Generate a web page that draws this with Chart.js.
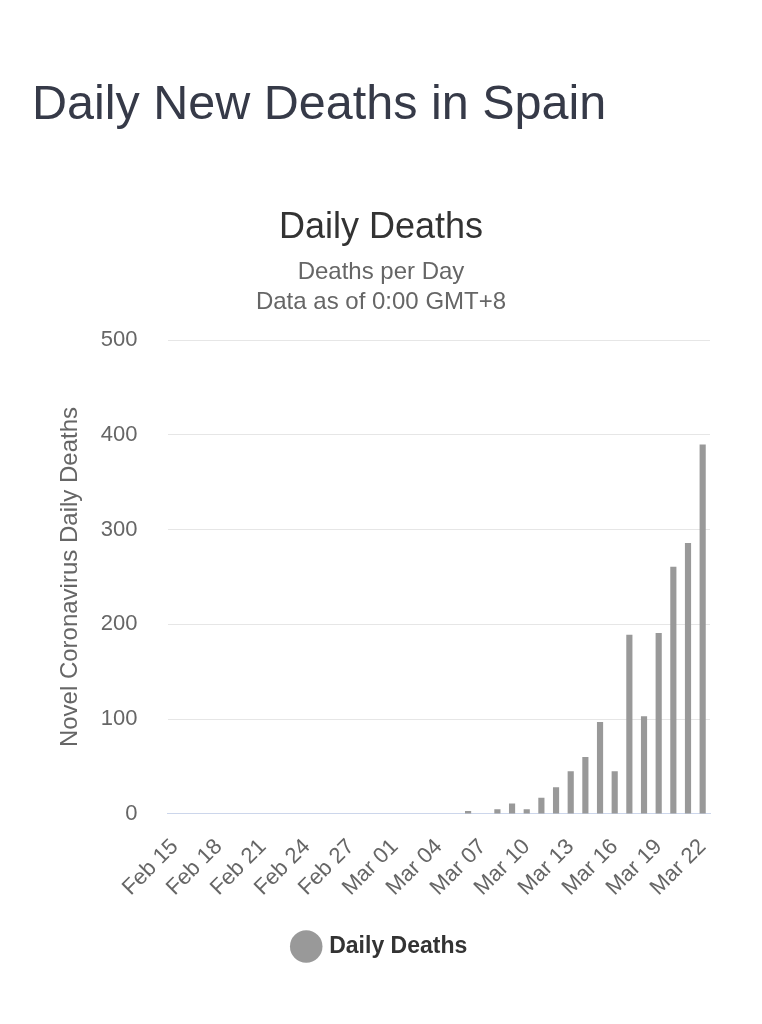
<!DOCTYPE html>
<html>
<head>
<meta charset="utf-8">
<title>Daily New Deaths in Spain</title>
<script src="https://cdn.jsdelivr.net/npm/chart.js@4"></script>
<style>
    body {
        margin: 0;
        background: #ffffff;
        font-family: "Liberation Sans", Arial, sans-serif;
    }
    h1 {
        position: absolute;
        left: 32px;
        top: 74px;
        margin: 0;
        font-weight: normal;
        font-size: 48.5px;
        color: #363a48;
    }
    #chart-box {
        position: absolute;
        left: 0;
        top: 180px;
        width: 762px;
        height: 844px;
    }
</style>
</head>
<body>
<h1>Daily New Deaths in Spain</h1>
<div id="chart-box"><canvas id="deaths-chart"></canvas></div>
<script>
const days = [
    'Feb 15', 'Feb 16', 'Feb 17', 'Feb 18', 'Feb 19', 'Feb 20', 'Feb 21', 'Feb 22',
    'Feb 23', 'Feb 24', 'Feb 25', 'Feb 26', 'Feb 27', 'Feb 28', 'Feb 29',
    'Mar 01', 'Mar 02', 'Mar 03', 'Mar 04', 'Mar 05', 'Mar 06', 'Mar 07', 'Mar 08',
    'Mar 09', 'Mar 10', 'Mar 11', 'Mar 12', 'Mar 13', 'Mar 14', 'Mar 15', 'Mar 16',
    'Mar 17', 'Mar 18', 'Mar 19', 'Mar 20', 'Mar 21', 'Mar 22'
];

const dailyDeaths = [
    0, 0, 0, 0, 0, 0, 0, 0,
    0, 0, 0, 0, 0, 0, 0,
    0, 0, 0, 0, 0, 3, 0, 5,
    11, 5, 17, 28, 45, 60, 97, 45,
    189, 103, 191, 261, 286, 390
];

const yTicks = [0, 100, 200, 300, 400, 500];

const font = '"Liberation Sans", Arial, sans-serif';

const ctx = document.getElementById('deaths-chart').getContext('2d');
new Chart(ctx, {
    type: 'bar',
    data: {
        labels: days,
        datasets: [{
            label: 'Daily Deaths',
            data: dailyDeaths,
            backgroundColor: '#999999',
            borderWidth: 0,
            barPercentage: 0.42,
            categoryPercentage: 1
        }]
    },
    options: {
        responsive: true,
        maintainAspectRatio: false,
        animation: false,
        layout: {
            padding: { left: 52, right: 52, top: 0, bottom: 56 }
        },
        plugins: {
            title: {
                display: true,
                text: 'Daily Deaths',
                color: '#333333',
                font: { family: font, size: 36, weight: 'normal', lineHeight: 1.2 },
                padding: { top: 26, bottom: 4 }
            },
            subtitle: {
                display: true,
                text: ['Deaths per Day', 'Data as of 0:00 GMT+8'],
                color: '#666666',
                font: { family: font, size: 24, lineHeight: 1.25 },
                padding: { top: 4, bottom: 23 }
            },
            legend: {
                position: 'bottom',
                labels: {
                    usePointStyle: true,
                    pointStyle: 'circle',
                    boxWidth: 24,
                    boxHeight: 24,
                    padding: 22,
                    color: '#333333',
                    font: { family: font, size: 23, weight: 'bold' }
                }
            },
            tooltip: { enabled: false }
        },
        scales: {
            x: {
                grid: { display: false },
                border: { display: true, color: '#ccd6eb' },
                ticks: {
                    autoSkip: false,
                    maxRotation: 45,
                    minRotation: 45,
                    padding: 12,
                    color: '#666666',
                    font: { family: font, size: 22 },
                    callback: function(value, index) {
                        return index % 3 === 0 ? days[index] : '';
                    }
                }
            },
            y: {
                min: 0,
                max: 500,
                afterBuildTicks: function(axis) {
                    axis.ticks = yTicks.map(v => ({ value: v }));
                },
                border: { display: false },
                grid: {
                    drawTicks: false,
                    color: c => c.tick.value === 0 ? '#ccd6eb' : '#e6e6e6'
                },
                ticks: {
                    padding: 30,
                    color: '#666666',
                    font: { family: font, size: 22 }
                },
                title: {
                    display: true,
                    text: 'Novel Coronavirus Daily Deaths',
                    color: '#666666',
                    font: { family: font, size: 24 },
                    padding: { top: 4, bottom: -14 }
                }
            }
        }
    }
});
</script>
</body>
</html>
